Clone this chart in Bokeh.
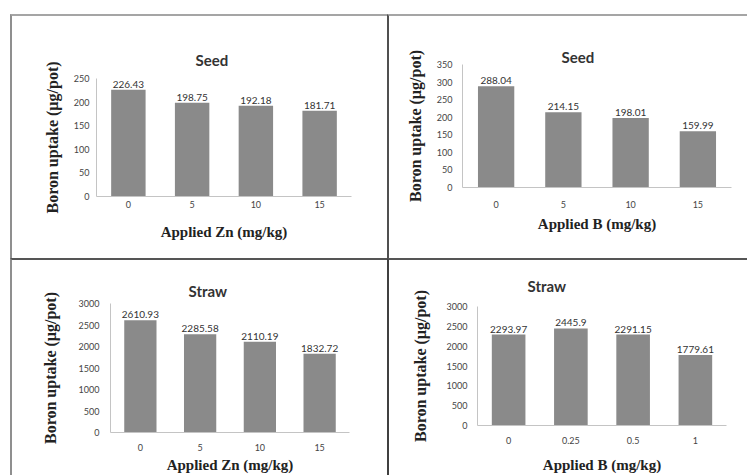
from bokeh.plotting import figure
from bokeh.models import ColumnDataSource, FixedTicker, Title
from bokeh.layouts import row, column
from bokeh.embed import file_html
from bokeh.resources import INLINE
from bokeh.core.properties import value

# ---------------- data ----------------
seed_zn_cats = ["0", "5", "10", "15"]
seed_zn_vals = [226.43, 198.75, 192.18, 181.71]

seed_b_cats = ["0", "5", "10", "15"]
seed_b_vals = [288.04, 214.15, 198.01, 159.99]

straw_zn_cats = ["0", "5", "10", "15"]
straw_zn_vals = [2610.93, 2285.58, 2110.19, 1832.72]

straw_b_cats = ["0", "0.25", "0.5", "1"]
straw_b_vals = [2293.97, 2445.9, 2291.15, 1779.61]

seed_zn_ticks = [0, 50, 100, 150, 200, 250]
seed_b_ticks = [0, 50, 100, 150, 200, 250, 300, 350]
straw_ticks = [0, 500, 1000, 1500, 2000, 2500, 3000]

y_title = "Boron uptake (µg/pot)"

BAR = "#8a8a8a"
SANS = "Lato"
SERIF = "Liberation Serif"


def panel(cats, vals, ticks, title, xlabel, w, h, borders, title_cfg, ax_cfg,
          margin, frame_css):
    left, right, top, bottom = borders
    p = figure(x_range=cats, y_range=(ticks[0], ticks[-1]), width=w, height=h,
               output_backend="svg", toolbar_location=None,
               min_border_left=left, min_border_right=right,
               min_border_top=top, min_border_bottom=bottom,
               background_fill_color="white", border_fill_color="white",
               outline_line_color=None)
    src = ColumnDataSource(dict(x=cats, y=vals, lab=[str(v) for v in vals]))
    p.vbar(x="x", top="y", width=0.54, source=src, fill_color=BAR,
           line_color=None)
    p.text(x="x", y="y", text="lab", source=src, text_align="center",
           text_baseline="bottom", y_offset=-2, text_font=value(SANS),
           text_font_size="10px", text_color="#333333")
    p.xgrid.visible = False
    p.ygrid.visible = False

    t_standoff, t_offset = title_cfg
    p.title = Title(text=title, align="left", offset=t_offset,
                    standoff=t_standoff, text_font=SANS, text_font_size="15px",
                    text_font_style="bold", text_color="#333333")

    ytick_sto, ylab_sto, xtick_sto, xlab_sto = ax_cfg
    ya = p.yaxis[0]
    ya.ticker = FixedTicker(ticks=ticks)
    ya.major_label_standoff = ytick_sto
    ya.axis_label = y_title
    ya.axis_label_standoff = ylab_sto
    ya.axis_label_text_font_size = "16px"
    xa = p.xaxis[0]
    xa.major_label_standoff = xtick_sto
    xa.axis_label = xlabel
    xa.axis_label_standoff = xlab_sto
    xa.axis_label_text_font_size = "15px"
    for ax in (xa, ya):
        ax.axis_line_color = "#c4c4c4"
        ax.axis_line_width = 1
        ax.major_tick_line_color = None
        ax.minor_tick_line_color = None
        ax.major_tick_out = 0
        ax.major_label_text_font = SANS
        ax.major_label_text_font_size = "9px"
        ax.major_label_text_color = "#444444"
        ax.axis_label_text_font = SERIF
        ax.axis_label_text_font_style = "bold"
        ax.axis_label_text_color = "#222222"
    # frame lines of the scanned page drawn as CSS borders of the wrapper
    return column(p, margin=margin, styles=frame_css)


tl = panel(seed_zn_cats, seed_zn_vals, seed_zn_ticks, "Seed", "Applied Zn (mg/kg)",
           375, 242, (84, 36, 62, 62), (20, 99), (7, 10, 4, 13),
           (14, 0, 0, 10),
           {"border-top": "2px solid #a5a5a5", "border-left": "2px solid #8f8f8f"})
tr = panel(seed_b_cats, seed_b_vals, seed_b_ticks, "Seed", "Applied B (mg/kg)",
           358, 242, (73, 16, 48, 71), (-2, 99), (10, 10, 13, 5),
           (14, 0, 0, 0),
           {"border-top": "2px solid #a5a5a5", "border-left": "2px solid #505050"})
bl = panel(straw_zn_cats, straw_zn_vals, straw_ticks, "Straw", "Applied Zn (mg/kg)",
           375, 215, (98, 38, 43, 41), (7, 78), (11, 17, 11, 3),
           (0, 0, 0, 10),
           {"border-top": "2px solid #555555", "border-left": "2px solid #8f8f8f"})
br = panel(straw_b_cats, straw_b_vals, straw_ticks, "Straw", "Applied B (mg/kg)",
           358, 215, (88, 21, 46, 50), (23, 50), (10, 15, 11, 10),
           (0, 0, 0, 0),
           {"border-top": "2px solid #555555", "border-left": "2px solid #404040"})

layout = column(row(tl, tr), row(bl, br))

open("out.html", "w").write(file_html(layout, INLINE))
